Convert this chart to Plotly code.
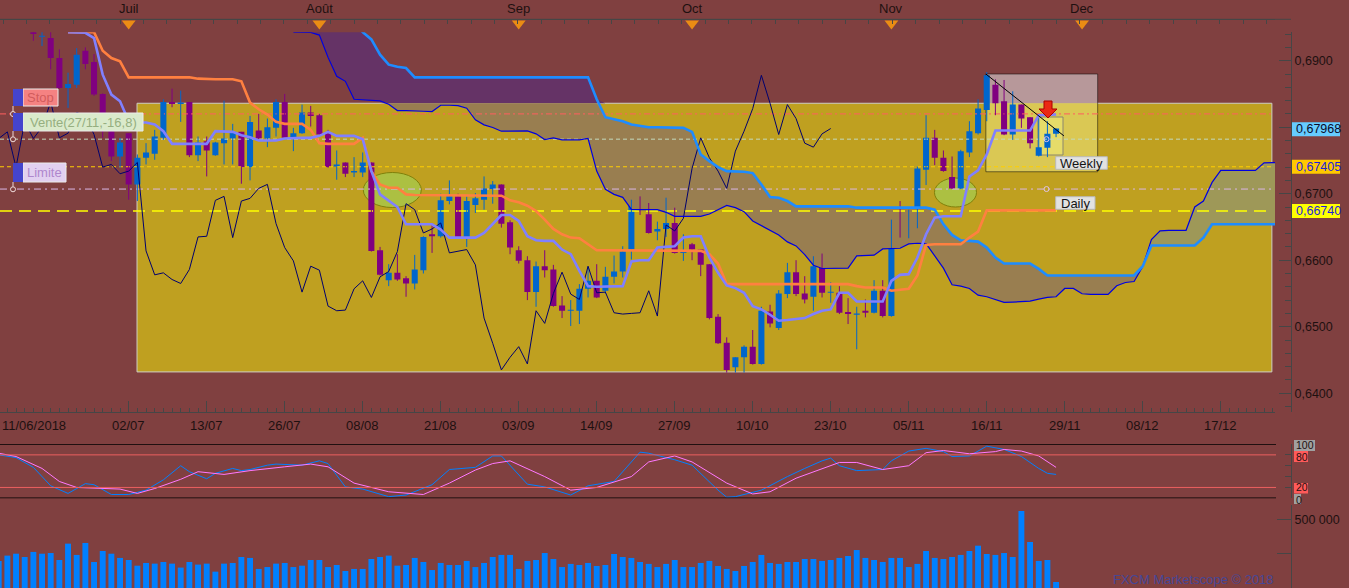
import numpy as np
import plotly.graph_objects as go

W, H = 1349, 588
def px(x): return x / W
def py(y): return 1 - y / H

FONT = "Liberation Sans, Arial, sans-serif"
BG = "rgb(128,64,64)"
TXT = "rgb(30,16,16)"
AXC = "rgb(70,70,70)"

# ---------------- data ----------------
# trading-day index: 0 = 02/07/2018
CANDLE_START = -11
opens = [
    0.6950, 0.6936, 0.6934, 0.6904, 0.6859, 0.6864, 0.6915, 0.6898, 0.6850, 0.6794, 0.6756,
    0.6791, 0.6714, 0.6754, 0.6760, 0.6784, 0.6838, 0.6835, 0.6838, 0.6758, 0.6779,
    0.6758, 0.6776, 0.6783, 0.6793, 0.6740, 0.6795, 0.6783, 0.6799, 0.6838, 0.6784,
    0.6791, 0.6822, 0.6818, 0.6791, 0.6741, 0.6747, 0.6732, 0.6732, 0.6747, 0.6615,
    0.6570, 0.6581, 0.6573, 0.6565, 0.6585, 0.6639, 0.6636, 0.6689, 0.6696, 0.6634,
    0.6683, 0.6691, 0.6707, 0.6714, 0.6657, 0.6615, 0.6600, 0.6552, 0.6591, 0.6586,
    0.6532, 0.6524, 0.6524, 0.6557, 0.6569, 0.6554, 0.6575, 0.6583, 0.6616, 0.6685,
    0.6669, 0.6643, 0.6647, 0.6656, 0.6611, 0.6624, 0.6616, 0.6594, 0.6515, 0.6476,
    0.6439, 0.6454, 0.6470, 0.6444, 0.6523, 0.6498, 0.6549, 0.6582, 0.6550, 0.6545,
    0.6609, 0.6551, 0.6551, 0.6522, 0.6518, 0.6524, 0.6521, 0.6554, 0.6516, 0.6652,
    0.6634, 0.6661, 0.6736, 0.6784, 0.6754, 0.6725, 0.6708, 0.6762, 0.6791, 0.6826,
    0.6864, 0.6839, 0.6789, 0.6834, 0.6815, 0.6757, 0.6769, 0.6790]
highs = [
    0.6955, 0.6948, 0.6948, 0.6917, 0.6882, 0.6919, 0.6920, 0.6910, 0.6851, 0.6794, 0.6784,
    0.6791, 0.6759, 0.6776, 0.6796, 0.6842, 0.6858, 0.6855, 0.6838, 0.6786, 0.6786,
    0.6778, 0.6840, 0.6805, 0.6793, 0.6817, 0.6820, 0.6813, 0.6842, 0.6850, 0.6799,
    0.6834, 0.6832, 0.6820, 0.6796, 0.6765, 0.6747, 0.6755, 0.6762, 0.6747, 0.6620,
    0.6594, 0.6609, 0.6576, 0.6608, 0.6636, 0.6656, 0.6700, 0.6720, 0.6700, 0.6696,
    0.6701, 0.6726, 0.6719, 0.6714, 0.6660, 0.6621, 0.6606, 0.6598, 0.6615, 0.6593,
    0.6546, 0.6540, 0.6564, 0.6590, 0.6594, 0.6590, 0.6607, 0.6621, 0.6691, 0.6696,
    0.6686, 0.6658, 0.6694, 0.6679, 0.6639, 0.6626, 0.6616, 0.6594, 0.6519, 0.6484,
    0.6454, 0.6472, 0.6495, 0.6530, 0.6533, 0.6555, 0.6596, 0.6600, 0.6576, 0.6606,
    0.6610, 0.6567, 0.6561, 0.6543, 0.6530, 0.6541, 0.6570, 0.6570, 0.6661, 0.6689,
    0.6676, 0.6741, 0.6818, 0.6796, 0.6765, 0.6756, 0.6766, 0.6809, 0.6842, 0.6883,
    0.6872, 0.6871, 0.6854, 0.6834, 0.6815, 0.6814, 0.6809, 0.6798]
lows = [
    0.6930, 0.6922, 0.6887, 0.6858, 0.6829, 0.6859, 0.6887, 0.6847, 0.6784, 0.6749, 0.6739,
    0.6691, 0.6689, 0.6744, 0.6751, 0.6781, 0.6830, 0.6808, 0.6755, 0.6749, 0.6726,
    0.6757, 0.6744, 0.6744, 0.6715, 0.6720, 0.6782, 0.6770, 0.6786, 0.6784, 0.6764,
    0.6790, 0.6801, 0.6788, 0.6739, 0.6721, 0.6725, 0.6725, 0.6725, 0.6613, 0.6577,
    0.6561, 0.6569, 0.6545, 0.6556, 0.6580, 0.6611, 0.6634, 0.6684, 0.6633, 0.6620,
    0.6671, 0.6676, 0.6685, 0.6649, 0.6609, 0.6595, 0.6540, 0.6530, 0.6574, 0.6530,
    0.6513, 0.6501, 0.6504, 0.6544, 0.6543, 0.6550, 0.6565, 0.6574, 0.6601, 0.6668,
    0.6640, 0.6630, 0.6635, 0.6610, 0.6599, 0.6600, 0.6576, 0.6511, 0.6474, 0.6431,
    0.6431, 0.6431, 0.6443, 0.6443, 0.6499, 0.6495, 0.6543, 0.6546, 0.6535, 0.6524,
    0.6544, 0.6536, 0.6519, 0.6504, 0.6466, 0.6514, 0.6520, 0.6514, 0.6515, 0.6634,
    0.6633, 0.6648, 0.6713, 0.6743, 0.6733, 0.6707, 0.6707, 0.6755, 0.6789, 0.6809,
    0.6818, 0.6788, 0.6781, 0.6799, 0.6768, 0.6756, 0.6755, 0.6785]
closes = [
    0.6940, 0.6937, 0.6904, 0.6859, 0.6865, 0.6909, 0.6895, 0.6849, 0.6794, 0.6756, 0.6777,
    0.6714, 0.6754, 0.6762, 0.6786, 0.6838, 0.6835, 0.6837, 0.6758, 0.6777, 0.6765,
    0.6777, 0.6783, 0.6793, 0.6740, 0.6808, 0.6783, 0.6800, 0.6838, 0.6784, 0.6791,
    0.6822, 0.6817, 0.6789, 0.6740, 0.6744, 0.6730, 0.6734, 0.6747, 0.6614, 0.6578,
    0.6581, 0.6571, 0.6565, 0.6586, 0.6635, 0.6636, 0.6690, 0.6696, 0.6634, 0.6689,
    0.6693, 0.6708, 0.6714, 0.6655, 0.6619, 0.6599, 0.6552, 0.6591, 0.6585, 0.6531,
    0.6524, 0.6525, 0.6557, 0.6569, 0.6544, 0.6575, 0.6583, 0.6613, 0.6685, 0.6676,
    0.6641, 0.6647, 0.6656, 0.6611, 0.6613, 0.6616, 0.6593, 0.6513, 0.6475, 0.6435,
    0.6454, 0.6470, 0.6444, 0.6524, 0.6505, 0.6550, 0.6582, 0.6549, 0.6541, 0.6591,
    0.6551, 0.6552, 0.6521, 0.6519, 0.6520, 0.6521, 0.6554, 0.6516, 0.6653, 0.6644,
    0.6663, 0.6738, 0.6784, 0.6754, 0.6734, 0.6708, 0.6764, 0.6794, 0.6828, 0.6878,
    0.6836, 0.6789, 0.6834, 0.6813, 0.6776, 0.6770, 0.6790, 0.6798]

date_tick_idx = [0, 9, 18, 27, 36, 45, 54, 63, 72, 81, 90, 99, 108, 117, 126]
date_tick_labels = ["02/07", "13/07", "26/07", "08/08", "21/08", "03/09", "14/09", "27/09",
                    "10/10", "23/10", "05/11", "16/11", "29/11", "08/12", "17/12"]
first_date_label = "11/06/2018"
month_idx = [0, 22, 45, 65, 88, 110]
month_labels = ["Juil", "Août", "Sep", "Oct", "Nov", "Dec"]

# Ichimoku
TK_START = -7
tenkan = [
    0.6943, 0.6943, 0.6942, 0.6934, 0.6879, 0.6849, 0.6839,
    0.6809, 0.6807, 0.6807, 0.6804, 0.6794, 0.6775, 0.6775, 0.6775, 0.6775, 0.6775,
    0.6794, 0.6794, 0.6793, 0.6788, 0.6785, 0.6780, 0.6780, 0.6780, 0.6783, 0.6784,
    0.6784, 0.6784, 0.6787, 0.6793, 0.6787, 0.6787, 0.6787, 0.6782, 0.6734, 0.6699,
    0.6689, 0.6680, 0.6654, 0.6654, 0.6654, 0.6654, 0.6646, 0.6634, 0.6634, 0.6634,
    0.6634, 0.6641, 0.6654, 0.6668, 0.6668, 0.6659, 0.6636, 0.6630, 0.6629, 0.6629,
    0.6616, 0.6609, 0.6584, 0.6561, 0.6560, 0.6560, 0.6560, 0.6561, 0.6598, 0.6600,
    0.6600, 0.6619, 0.6620, 0.6621, 0.6634, 0.6636, 0.6636, 0.6604, 0.6581, 0.6562,
    0.6558, 0.6551, 0.6531, 0.6526, 0.6518, 0.6509, 0.6510, 0.6512, 0.6513, 0.6519,
    0.6524, 0.6526, 0.6551, 0.6551, 0.6538, 0.6538, 0.6538, 0.6538, 0.6569, 0.6578,
    0.6579, 0.6604, 0.6639, 0.6664, 0.6666, 0.6666, 0.6666, 0.6726, 0.6735, 0.6759,
    0.6795, 0.6795, 0.6795, 0.6795, 0.6795, 0.6818, 0.6819, 0.6819]
kijun = ([0.6943] * 4 + [0.6915, 0.6904, 0.6899, 0.6875] + [0.6875] * 7 + [0.6873]
         + [0.6872] * 4 + [0.6869, 0.6837, 0.6827, 0.6819, 0.6808, 0.6805, 0.6805, 0.6805, 0.6796, 0.6776]
         + [0.6775] * 4 + [0.6784, 0.6734, 0.6714, 0.6709, 0.6709, 0.6699] + [0.6698] * 10
         + [0.6697, 0.6690, 0.6687, 0.6682, 0.6674, 0.6661, 0.6647, 0.6639, 0.6634, 0.6633, 0.6624]
         + [0.6615] * 12 + [0.6614, 0.6609, 0.6595] + [0.6564] * 15 + [0.6561] + [0.6559] * 3
         + [0.6554, 0.6555, 0.6557, 0.6577, 0.6623] + [0.6624] * 4 + [0.6634, 0.6643, 0.6675]
         + [0.6675] * 8)
SENKOU_START = 19
senkou_a = [
    0.6943, 0.6943, 0.69425, 0.69385, 0.6905, 0.68765, 0.6869, 0.6842, 0.6841, 0.6841,
    0.68395, 0.68345, 0.6825, 0.6825, 0.6825, 0.6824, 0.68235,
    0.6833, 0.6833, 0.68325, 0.68285, 0.6811, 0.68035, 0.67995, 0.6794, 0.6794,
    0.67945, 0.67945, 0.6790, 0.67815, 0.6784, 0.6781, 0.6781, 0.6781, 0.6783,
    0.6734, 0.67065, 0.6699, 0.66945, 0.66765, 0.6676, 0.6676, 0.6676, 0.6672, 0.6666,
    0.6666, 0.6666, 0.6666, 0.66695, 0.6676, 0.66825, 0.6679, 0.6673, 0.6659, 0.6652, 0.6645,
    0.6638, 0.66275, 0.66215, 0.66085, 0.65925, 0.65875, 0.65875, 0.65875, 0.6588,
    0.66065, 0.66075, 0.66075, 0.6617, 0.66175, 0.6618, 0.66245, 0.66255, 0.6625,
    0.66065, 0.6588, 0.6563, 0.6561, 0.65575, 0.65475, 0.6545, 0.6541, 0.65365, 0.6537,
    0.6538, 0.65385, 0.65415, 0.6544, 0.6545, 0.65575, 0.65575, 0.65495, 0.65485, 0.65485, 0.65485,
    0.65615, 0.65665, 0.6568, 0.65905, 0.6631, 0.6644, 0.6645, 0.6645, 0.6645, 0.6680,
    0.6689, 0.6717, 0.6735, 0.6735, 0.6735, 0.6735, 0.6735, 0.67465, 0.6747, 0.6747]
senkou_b = ([0.6960] * 8 + [0.6943, 0.6932, 0.6909, 0.6894, 0.6891, 0.6889] + [0.6875] * 21
            + [0.6842, 0.6815, 0.6812, 0.6809, 0.6804, 0.6802] + [0.6800] * 4
            + [0.6799, 0.6793, 0.6759, 0.6749, 0.6740, 0.6734, 0.6734, 0.6733, 0.6731, 0.6714, 0.6695, 0.6694, 0.6689]
            + [0.6681] * 7 + [0.6679] * 9
            + [0.6676, 0.6654, 0.6638, 0.6630, 0.6629, 0.6628, 0.6619, 0.6604] + [0.6595] * 4
            + [0.6587] + [0.6577] * 11 + [0.6591] + [0.6622] * 6 + [0.6634] + [0.6654] * 9)
CHIKOU_SHIFT = 26

# volume (thousands), index from -15
VOL_START = -15
volume = [
    199, 238, 252, 228, 265, 252, 257, 206, 326, 243,
    331, 191, 272, 252, 221, 206, 164, 184, 179, 191,
    179, 150, 191, 172, 179, 120, 179, 184, 228, 221,
    140, 154, 179, 184, 154, 164, 206, 206, 154, 169,
    125, 140, 140, 213, 228, 238, 164, 169, 221, 191,
    132, 184, 169, 169, 199, 154, 184, 228, 243, 243,
    140, 199, 206, 257, 213, 154, 177, 169, 184, 162,
    169, 250, 228, 221, 191, 177, 154, 177, 206, 154,
    154, 184, 199, 162, 140, 125, 162, 191, 243, 184,
    177, 191, 191, 213, 213, 199, 206, 221, 235, 279,
    221, 206, 191, 221, 221, 154, 177, 272, 221, 213,
    228, 243, 272, 311, 250, 243, 257, 228, 566, 338,
    199, 206, 44]

# stochastic
stoch_k_idx = [-15, -13, -11, -9, -7, -5, -4, -2, 0, 2, 4, 6, 7, 9, 10, 12, 13, 14, 16, 17, 20, 22, 23,
               25, 27, 30, 32, 35, 37, 40, 42, 43, 46, 48, 51, 53, 56, 59, 60, 63, 65, 68, 69, 70,
               73, 76, 78, 80, 81, 82, 84, 87, 88, 90, 92, 94, 95, 97, 99, 101, 103, 105, 106, 107]
stoch_k = [80, 75, 57, 23, 9, 27, 25, 7, 7, 15, 34, 60, 49, 36, 46, 55, 51, 53, 61, 63, 61, 69, 64,
           21, 17, 3, 6, 25, 53, 57, 78, 78, 26, 21, 6, 23, 31, 85, 83, 71, 61, 15, 2, 3,
           15, 40, 55, 69, 74, 60, 51, 53, 69, 87, 92, 86, 77, 78, 96, 90, 77, 55, 46, 44]
stoch_d_idx = [-15, -13, -10, -8, -6, -1, 1, 3, 6, 8, 11, 14, 18, 21, 23, 26, 30, 34, 37, 40, 42, 44,
               48, 51, 54, 58, 60, 63, 65, 69, 72, 74, 77, 80, 82, 84, 87, 90, 92, 94, 97, 100, 101,
               103, 105, 107]
stoch_d = [83, 77, 55, 31, 20, 17, 9, 18, 35, 49, 44, 51, 58, 63, 58, 28, 12, 7, 28, 52, 64, 69,
           40, 15, 20, 40, 67, 78, 67, 28, 8, 12, 37, 55, 66, 66, 53, 60, 84, 88, 82, 86, 90,
           87, 78, 57]

# order / price levels
STOP = 0.6820
VENTE = 0.6782
LEVEL_A = 0.67405
LIMITE = 0.6707
LEVEL_B = 0.66740
LAST = 0.67968

# drawn zones (analyst's drawings)
ZONE_X = (0.96, 131.9); ZONE_TOP = 0.6836; ZONE_BOT = 0.6432
WEEK_X = (98.9, 111.8); WEEK_TOP = 0.6880; WEEK_BOT = 0.6733
SMALL_X = (104.9, 107.8); SMALL_TOP = 0.68153; SMALL_BOT = 0.67582
TREND = ((98.9, 0.6880), (107.9, 0.6787))
ELL1 = (27.07, 33.76, 0.66792, 0.67319)
ELL2 = (92.97, 97.82, 0.66800, 0.67236)

# ---------------- figure ----------------
X0, X1 = -14.85, 132.26
Y0, Y1 = 0.637218, 0.694271
XLINE_END = 132.03
UP_COL = "rgb(0,102,204)"
DN_COL = "rgb(128,0,128)"

fig = go.Figure()

idx = np.arange(CANDLE_START, CANDLE_START + len(opens))
o, h, l, c = map(np.array, (opens, highs, lows, closes))

# cloud
sa = np.array(senkou_a); sb = np.array(senkou_b)
sx = np.arange(SENKOU_START, SENKOU_START + len(sa))
lo = np.minimum(sa, sb)

def band(lower, upper, color):
    fig.add_trace(go.Scatter(x=sx, y=lower, mode="lines", line=dict(width=0, color=color),
                             hoverinfo="skip", showlegend=False))
    fig.add_trace(go.Scatter(x=sx, y=upper, mode="lines", line=dict(width=0, color=color),
                             fill="tonexty", fillcolor=color, hoverinfo="skip", showlegend=False))

band(np.maximum(lo, ZONE_TOP), np.maximum(sb, ZONE_TOP), "rgb(101,51,102)")
band(np.minimum(lo, ZONE_TOP), np.minimum(sb, ZONE_TOP), "rgb(153,126,80)")
band(lo, sa, "rgb(158,152,88)")

# level lines
levels = [(STOP, "rgb(255,95,95)", "6px,3px,2px,3px", 1),
          (VENTE, "rgb(195,218,190)", "4px,3px", 1),
          (LEVEL_A, "rgb(255,205,0)", "4px,3px", 1.2),
          (LIMITE, "rgb(218,182,230)", "7px,4px,2px,4px", 1),
          (LEVEL_B, "rgb(255,255,0)", "12px,7px", 1.6)]
for val, col, dash, w in levels:
    fig.add_trace(go.Scatter(x=[X0, XLINE_END], y=[val, val], mode="lines",
                             line=dict(color=col, dash=dash, width=w), hoverinfo="skip"))

# candles
up = c >= o
for mask, col in [(up, UP_COL), (~up, DN_COL)]:
    wx, wy = [], []
    for i_, hi_, lo_ in zip(idx[mask], h[mask], l[mask]):
        wx += [int(i_), int(i_), None]
        wy += [float(lo_), float(hi_), None]
    fig.add_trace(go.Scatter(x=wx, y=wy, mode="lines", line=dict(color=col, width=1), hoverinfo="skip"))
    base = np.minimum(o, c)[mask]
    hgt = np.maximum(np.abs(c - o)[mask], 0.00014)
    fig.add_trace(go.Bar(x=idx[mask].tolist(), y=hgt.tolist(), base=base.tolist(), width=0.7,
                         marker=dict(color=col, line=dict(width=0)), hoverinfo="skip"))

# ichimoku lines
tx = np.arange(TK_START, TK_START + len(tenkan))
fig.add_trace(go.Scatter(x=(idx - CHIKOU_SHIFT).tolist(), y=closes, mode="lines",
                         line=dict(color="rgb(0,0,110)", width=1)))
fig.add_trace(go.Scatter(x=sx, y=sa, mode="lines", line=dict(color="rgb(0,0,225)", width=1.2)))
fig.add_trace(go.Scatter(x=sx, y=sb, mode="lines", line=dict(color="rgb(30,140,255)", width=2.6)))
fig.add_trace(go.Scatter(x=tx, y=kijun, mode="lines", line=dict(color="rgb(255,128,64)", width=2.6)))
fig.add_trace(go.Scatter(x=tx, y=tenkan, mode="lines", line=dict(color="rgb(128,128,255)", width=2.6)))

# order markers
fig.add_trace(go.Scatter(x=[105.9, 105.9], y=[VENTE, LIMITE], mode="markers",
                         marker=dict(symbol="circle-open", size=5, color="rgb(225,195,230)")))

# stochastic
fig.add_trace(go.Scatter(x=stoch_k_idx, y=stoch_k, mode="lines", xaxis="x2", yaxis="y2",
                         line=dict(color="rgb(0,128,255)", width=1)))
fig.add_trace(go.Scatter(x=stoch_d_idx, y=stoch_d, mode="lines", xaxis="x2", yaxis="y2",
                         line=dict(color="rgb(255,120,255)", width=1)))

# volume
vx = list(range(VOL_START, VOL_START + len(volume)))
fig.add_trace(go.Bar(x=vx, y=volume, xaxis="x3", yaxis="y3", width=0.68,
                     marker=dict(color="rgb(0,128,255)", line=dict(width=0))))

# month markers on top strip
fig.add_trace(go.Scatter(x=month_idx, y=[23.5] * len(month_idx), xaxis="x", yaxis="y4", mode="markers",
                         marker=dict(symbol="triangle-down", size=12, color="rgb(235,140,20)"),
                         cliponaxis=False))
fig.add_trace(go.Scatter(x=[], y=[], xaxis="x4", yaxis="y4"))

shapes = []
# zone rectangle
shapes.append(dict(type="rect", xref="x", yref="y", x0=ZONE_X[0], x1=ZONE_X[1], y0=ZONE_BOT, y1=ZONE_TOP,
                   fillcolor="rgb(191,160,32)", line=dict(color="rgb(205,205,195)", width=1), layer="below"))
# weekly box
shapes.append(dict(type="rect", xref="x", yref="y", x0=WEEK_X[0], x1=WEEK_X[1], y0=ZONE_TOP, y1=WEEK_TOP,
                   fillcolor="rgb(183,152,154)", line=dict(width=0), layer="below"))
shapes.append(dict(type="rect", xref="x", yref="y", x0=WEEK_X[0], x1=WEEK_X[1], y0=WEEK_BOT, y1=ZONE_TOP,
                   fillcolor="rgb(218,200,84)", line=dict(width=0), layer="below"))
shapes.append(dict(type="rect", xref="x", yref="y", x0=WEEK_X[0], x1=WEEK_X[1], y0=WEEK_BOT, y1=WEEK_TOP,
                   fillcolor="rgba(0,0,0,0)", line=dict(color="rgba(0,0,0,0.5)", width=1), layer="below"))
shapes.append(dict(type="rect", xref="x", yref="y", x0=SMALL_X[0], x1=SMALL_X[1], y0=SMALL_BOT, y1=SMALL_TOP,
                   fillcolor="rgb(230,220,105)", line=dict(color="rgb(140,135,110)", width=1), layer="below"))
for e in (ELL1, ELL2):
    shapes.append(dict(type="circle", xref="x", yref="y", x0=e[0], x1=e[1], y0=e[2], y1=e[3],
                       fillcolor="rgb(172,192,66)", line=dict(color="rgb(128,128,10)", width=1), layer="below"))
shapes.append(dict(type="line", xref="x", yref="y", x0=TREND[0][0], y0=TREND[0][1], x1=TREND[1][0], y1=TREND[1][1],
                   line=dict(color="black", width=1), layer="above"))
# red arrow
pts = [(1044, 101), (1052, 101), (1052, 109), (1057, 109), (1048, 118), (1039, 109), (1044, 109)]
path = "M " + " L ".join(f"{px(a):.5f},{py(b):.5f}" for a, b in pts) + " Z"
shapes.append(dict(type="path", xref="paper", yref="paper", path=path,
                   fillcolor="rgb(235,40,20)", line=dict(color="rgb(170,0,0)", width=1), layer="above"))
# stochastic guide lines
for v, col, w in [(100, "black", 1.5), (0, "black", 1.5), (80, "rgb(235,95,95)", 1), (20, "rgb(235,95,95)", 1)]:
    shapes.append(dict(type="line", xref="paper", yref="y2", x0=0, x1=px(1276), y0=v, y1=v,
                       line=dict(color=col, width=w), layer="above"))
# top time axis line
shapes.append(dict(type="line", xref="paper", yref="paper", x0=0, x1=px(1291), y0=py(19.3), y1=py(19.3),
                   line=dict(color=AXC, width=1), layer="above"))

annotations = []
def text(x, y, s, color=TXT, size=13, xanchor="center", xref="paper", yref="paper"):
    annotations.append(dict(x=x, y=y, xref=xref, yref=yref, text=s, showarrow=False,
                            font=dict(family=FONT, size=size, color=color),
                            xanchor=xanchor, yanchor="middle"))

# left order labels
for (y0, y1, x1, fill, label, tcol, liney) in [
        (89, 106, 58, "rgb(245,130,130)", "Stop", "rgb(210,92,92)", 114),
        (113, 131, 143, "rgb(218,234,203)", "Vente(27/11,-16,8)", "rgb(150,175,128)", 139.3),
        (163, 182, 66, "rgb(226,208,240)", "Limite", "rgb(175,135,205)", 189.3)]:
    shapes.append(dict(type="rect", xref="paper", yref="paper", x0=px(23), x1=px(x1), y0=py(y1), y1=py(y0),
                       fillcolor=fill, line=dict(color="rgb(235,235,235)", width=1), layer="above"))
    shapes.append(dict(type="rect", xref="paper", yref="paper", x0=px(13), x1=px(23), y0=py(y1), y1=py(y0),
                       fillcolor="rgb(68,68,205)", line=dict(width=0), layer="above"))
    shapes.append(dict(type="line", xref="paper", yref="paper", x0=px(13), x1=px(13), y0=py(y1), y1=py(liney - 2.5),
                       line=dict(color="rgb(235,215,215)", width=1), layer="above"))
    shapes.append(dict(type="circle", xref="paper", yref="paper", x0=px(10.5), x1=px(15.5),
                       y0=py(liney + 2.5), y1=py(liney - 2.5),
                       fillcolor=BG, line=dict(color="rgb(240,220,220)", width=1), layer="above"))
    text(px((23 + x1) / 2), py((y0 + y1) / 2), label, color=tcol, size=13)

# Weekly / Daily tags
for (x0, x1, y0, y1, label) in [(1055.7, 1107.3, 156.7, 169.3, "Weekly"), (1055.7, 1095, 196.7, 209.3, "Daily")]:
    shapes.append(dict(type="rect", xref="paper", yref="paper", x0=px(x0), x1=px(x1), y0=py(y1), y1=py(y0),
                       fillcolor="rgb(226,226,226)", line=dict(color="rgb(185,185,185)", width=1), layer="above"))
    text(px((x0 + x1) / 2), py((y0 + y1) / 2), label, color="rgb(20,20,20)", size=13)

# right price tags
for (val, fill, tcol) in [(LAST, "rgb(102,204,255)", "rgb(10,10,40)"),
                          (LEVEL_A, "rgb(255,200,0)", "rgb(30,30,220)"),
                          (LEVEL_B, "rgb(255,255,0)", "rgb(30,30,220)")]:
    shapes.append(dict(type="rect", xref="paper", yref="y", x0=px(1292), x1=px(1340),
                       y0=val - 0.00105, y1=val + 0.00105, fillcolor=fill, line=dict(width=0), layer="above"))
    text(px(1294), val, f"{val:.5f}".replace(".", ","), color=tcol, size=12.5, xanchor="left", yref="y")

# stochastic tags
for (y0, y1, x1, fill, label, ty) in [(440, 451, 1315, "rgb(160,160,160)", "100", 444.5),
                                      (451, 462, 1308, "rgb(255,90,90)", "80", 457.5),
                                      (483, 493.5, 1308, "rgb(255,90,90)", "20", 487.0),
                                      (494, 504, 1301, "rgb(160,160,160)", "0", 500.0)]:
    shapes.append(dict(type="rect", xref="paper", yref="paper", x0=px(1294), x1=px(x1), y0=py(y1), y1=py(y0),
                       fillcolor=fill, line=dict(width=0), layer="above"))
    text(px(1294), py(ty), label, color=TXT, size=10.5, xanchor="left")

# date labels
text(0, py(425.7), first_date_label, xanchor="left")
for i_, lab in zip(date_tick_idx, date_tick_labels):
    text(i_, py(425.7), lab, xref="x")
# month labels
for i_, lab in zip(month_idx, month_labels):
    text(i_, py(8.3), lab, xref="x")
# watermark
text(px(1276), py(579), "FXCM Marketscope © 2018", color="rgb(70,70,150)", size=13, xanchor="right")

fig.update_layout(
    width=W, height=H, autosize=False, margin=dict(l=0, r=0, t=0, b=0),
    paper_bgcolor=BG, plot_bgcolor=BG, showlegend=False, barmode="overlay", hovermode=False,
    xaxis=dict(domain=[0, px(1275)], range=[X0, X1], anchor="y", showgrid=False, zeroline=False,
               showline=True, linecolor=AXC, linewidth=1, ticks="inside", ticklen=11, tickcolor=AXC,
               tickvals=date_tick_idx, showticklabels=False,
               minor=dict(ticks="inside", ticklen=4, dtick=1, tick0=0, tickcolor=AXC)),
    yaxis=dict(domain=[py(411.7), py(32.3)], range=[Y0, Y1], anchor="free", position=px(1291), side="right",
               showgrid=False, zeroline=False, showline=True, linecolor=AXC, ticks="inside", ticklen=12,
               tickcolor=AXC, tickvals=[0.64, 0.65, 0.66, 0.67, 0.68, 0.69],
               ticktext=["0,6400", "0,6500", "0,6600", "0,6700", "", "0,6900"],
               tickfont=dict(family=FONT, size=12.5, color=TXT),
               minor=dict(ticks="inside", ticklen=6, dtick=0.002, tick0=0.64, tickcolor=AXC)),
    xaxis2=dict(domain=[0, px(1275)], range=[X0, X1], anchor="y2", visible=False),
    yaxis2=dict(domain=[py(498.3), py(444)], range=[0, 100], anchor="free", position=px(1291), side="right",
                showgrid=False, zeroline=False, showline=True, linecolor=AXC, ticks="inside", ticklen=6,
                tickcolor=AXC, tickvals=[0, 20, 40, 60, 80, 100], showticklabels=False),
    xaxis3=dict(domain=[0, px(1275)], range=[X0, X1], anchor="y3", visible=False),
    yaxis3=dict(domain=[0, py(505)], range=[0, 610], anchor="free", position=px(1291), side="right",
                showgrid=False, zeroline=False, showline=True, linecolor=AXC, ticks="inside", ticklen=14,
                tickcolor=AXC, tickvals=[250, 500], ticktext=["", "500 000"],
                tickfont=dict(family=FONT, size=12.5, color=TXT)),
    yaxis4=dict(domain=[py(32.3), 1], range=[32.3, 0], anchor="x", visible=False),
    xaxis4=dict(overlaying="x", side="top", anchor="free", position=py(19.3), range=[X0, X1],
                showline=True, linecolor=AXC, ticks="inside", ticklen=4, tickcolor=AXC,
                tick0=-14.5, dtick=2.7, showticklabels=False, showgrid=False, zeroline=False),
    shapes=shapes, annotations=annotations,
)

fig.write_html("out.html", config={"displayModeBar": False, "staticPlot": True},
               post_script="document.body.style.margin='0px';document.body.style.padding='0px';"
                           "document.body.style.overflow='hidden';")
